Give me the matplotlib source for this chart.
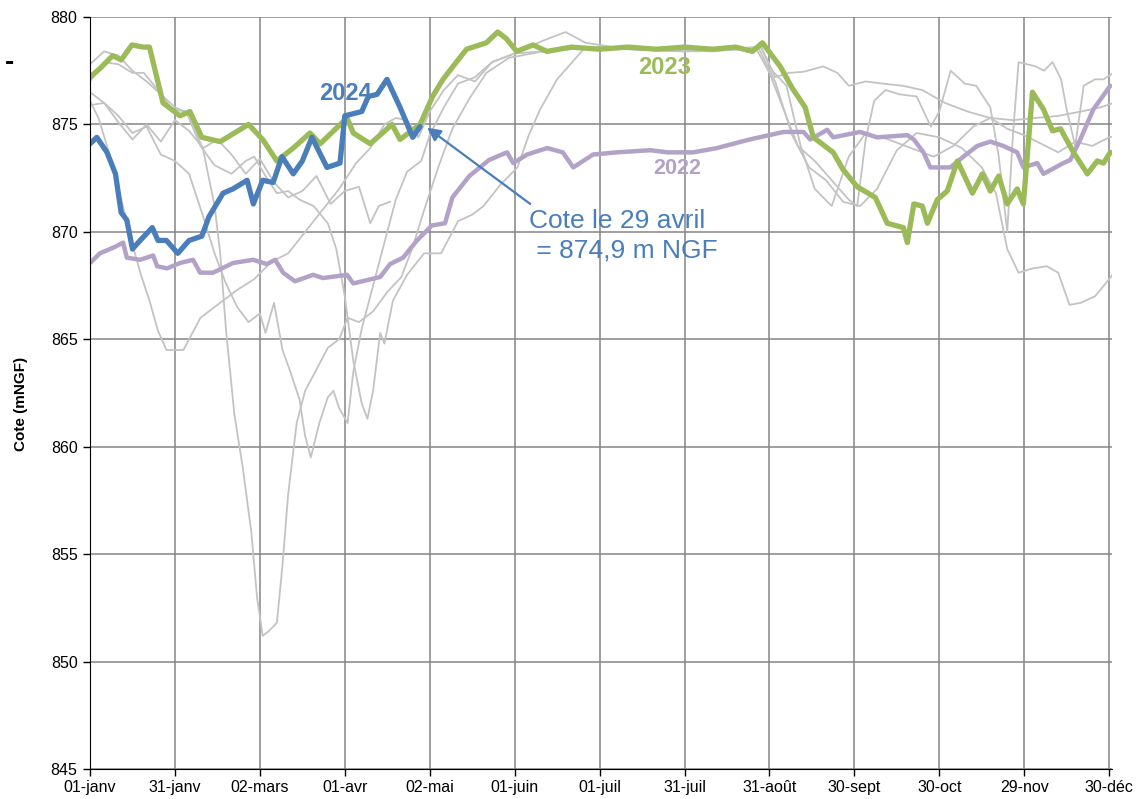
import matplotlib
matplotlib.use("Agg")
import matplotlib.pyplot as plt

plt.rcParams['font.family'] = ['Liberation Sans', 'DejaVu Sans']

# x = day of year (0 = 01-janv), y = cote in m NGF
tick_days = [0, 30, 60, 90, 120, 150, 180, 210, 240, 270, 300, 330, 360]
tick_labels = ["01-janv", "31-janv", "02-mars", "01-avr", "02-mai", "01-juin", "01-juil",
               "31-juil", "31-août", "30-sept", "30-oct", "29-nov", "30-déc"]

y2024_days = [0, 2.4, 6, 9, 11, 13, 15, 17.7, 22, 24, 27, 31, 35, 39.5, 42, 47, 50.5, 55.5, 57.7, 61,
              64.7, 67.8, 71.8, 75, 78.4, 83.7, 88.3, 90, 96, 98.3, 101.4, 104.9, 109.5, 114, 116.6]
y2024_vals = [874.1, 874.4, 873.7, 872.7, 870.9, 870.55, 869.2, 869.6, 870.2, 869.6, 869.6, 869.0, 869.6,
              869.8, 870.7, 871.8, 872.0, 872.4, 871.3, 872.4, 872.3, 873.5, 872.7, 873.3, 874.4, 873.0,
              873.2, 875.4, 875.6, 876.3, 876.4, 877.1, 875.8, 874.4, 874.9]

y2023_days = [0, 3.5, 8, 11, 14.8, 18.8, 21, 25.8, 31.8, 35.3, 39.5, 46, 56, 61, 66, 71.8, 77.7, 81.3,
              90.8, 93, 99, 106.7, 109.5, 116.6, 121, 124.7, 130, 133, 140, 144, 147, 150.7, 156.5,
              161.4, 170, 180, 190, 200, 210, 220, 228, 234, 237.5, 243.8, 248, 252.6, 255.5, 262.5,
              266, 271, 277.4, 281.6, 287.3, 288.7, 291, 294, 295.8, 299.3, 302.8, 306.4, 311.7, 315.2,
              318, 321, 324, 327.5, 329.7, 332.9, 336.8, 340, 342.8, 347.4, 352.3, 355.8, 358, 360.4]
y2023_vals = [877.2, 877.6, 878.2, 878.0, 878.7, 878.6, 878.6, 876.0, 875.4, 875.6, 874.4, 874.2, 875.0,
              874.3, 873.3, 873.9, 874.6, 874.1, 875.3, 874.6, 874.1, 875.0, 874.3, 875.0, 876.3, 877.1,
              878.0, 878.5, 878.8, 879.3, 879.0, 878.4, 878.7, 878.4, 878.6, 878.5, 878.6, 878.5, 878.6,
              878.5, 878.6, 878.4, 878.8, 877.7, 876.7, 875.8, 874.4, 873.7, 872.9, 872.1, 871.6, 870.4,
              870.2, 869.5, 871.3, 871.2, 870.4, 871.5, 871.9, 873.3, 871.8, 872.7, 871.9, 872.6, 871.3,
              872.0, 871.3, 876.5, 875.7, 874.7, 874.8, 873.7, 872.7, 873.3, 873.2, 873.7]

y2022_days = [0, 3.5, 8.8, 11.7, 13, 17.7, 22.3, 23.7, 27.2, 31.8, 36.4, 38.9, 43.5, 50.5, 57.6, 62.5,
              65.4, 68.2, 72.4, 78.8, 82.3, 90.8, 93, 102.5, 106, 110.6, 115.5, 120.8, 125.4, 128, 134,
              141, 147.3, 149.5, 154.4, 161.5, 167, 170.7, 177.7, 186, 198, 204, 213, 221.5, 233, 245,
              252, 254.4, 260.4, 262.5, 272, 278, 288.7, 291, 294.4, 296.8, 303.9, 308.5, 313.4, 318,
              322.6, 327.5, 329.7, 334.6, 336.8, 343.8, 346.3, 349.8, 354.4, 360.4]
y2022_vals = [868.55, 869.0, 869.3, 869.5, 868.8, 868.7, 868.9, 868.4, 868.3, 868.55, 868.7, 868.1,
              868.1, 868.55, 868.7, 868.5, 868.7, 868.1, 867.7, 868.0, 867.85, 868.0, 867.6, 867.9,
              868.5, 868.8, 869.6, 870.3, 870.4, 871.6, 872.6, 873.35, 873.7, 873.2, 873.6, 873.9,
              873.7, 873.0, 873.6, 873.7, 873.8, 873.7, 873.7, 873.9, 874.3, 874.65, 874.65, 874.3,
              874.75, 874.4, 874.65, 874.4, 874.5, 874.3, 873.7, 873.0, 873.0, 873.5, 874.0, 874.2,
              874.0, 873.7, 873.0, 873.2, 872.7, 873.2, 873.35, 874.3, 875.7, 876.8]

# earlier years, all in grey
gray_a_days = [0, 5, 10, 15, 20, 25, 30, 35, 40, 44, 46, 48, 51, 54, 57, 59, 61, 63, 66, 68, 70, 73, 76,
               80, 84, 88, 91, 95, 100, 105, 110, 114, 118, 123, 128, 134, 140, 148, 160, 180, 200, 220,
               236, 242, 248, 254, 260, 266, 272, 278, 285, 292, 300, 308, 315, 320, 324, 328, 333, 338,
               342, 346, 350, 355, 360, 364]
gray_a_vals = [877.8, 878.4, 878.2, 877.5, 877.0, 876.4, 875.8, 875.5, 873.8, 871.2, 869.0, 865.5, 861.5,
               859.0, 856.0, 853.0, 851.2, 851.4, 851.8, 854.5, 857.8, 861.1, 862.6, 863.6, 864.6, 865.0,
               866.0, 865.8, 866.3, 867.2, 867.9, 869.3, 871.0, 873.0, 874.8, 876.2, 877.4, 878.1, 878.4,
               878.6, 878.5, 878.4, 878.6, 877.0, 874.5, 873.0, 872.4, 871.4, 871.2, 872.0, 873.8, 874.6,
               874.4, 873.9, 873.0, 871.8, 869.2, 868.1, 868.3, 868.4, 868.1, 866.6, 866.7, 867.0, 867.8,
               868.5]

gray_b_days = [0, 3, 6, 9, 12, 15, 18, 21, 24, 27, 33, 39, 46, 52, 58, 64, 70, 76, 82, 88, 94, 99, 104,
               108, 112, 116, 120, 125, 130, 136, 142, 150, 160, 168, 175, 190, 210, 230, 237, 242, 247,
               252, 259, 264, 268, 274, 280, 287, 294, 302, 310, 318, 326, 334, 342, 350, 357, 364]
gray_b_vals = [876.1, 875.3, 874.0, 872.6, 871.0, 869.4, 868.0, 866.8, 865.4, 864.5, 864.5, 866.0, 866.7,
               867.3, 867.8, 868.6, 869.0, 870.0, 871.0, 872.0, 873.2, 873.9, 875.0, 875.3, 875.2, 874.4,
               875.6, 876.6, 877.3, 877.0, 877.9, 878.3, 878.9, 879.3, 878.8, 878.5, 878.4, 878.5, 878.6,
               877.2, 877.4, 877.45, 877.7, 877.4, 876.8, 877.0, 876.9, 876.8, 876.6, 876.0, 875.6, 875.3,
               875.2, 875.3, 875.4, 875.6, 875.8, 876.1]

gray_c_days = [0, 5, 10, 15, 20, 25, 30, 35, 40, 44, 48, 52, 56, 60, 62, 65, 68, 71, 74, 76, 78, 81, 84,
               86, 88, 91, 93, 96, 100, 104, 108, 112, 117, 120, 125, 130, 136, 142, 150, 160, 175, 195,
               215, 235, 240, 245, 250, 256, 262, 268, 271, 274, 277, 281, 286, 292, 297, 300, 304, 309,
               313, 318, 321, 324, 326, 328, 334, 337, 340, 343, 345, 348, 351, 355, 358, 364]
gray_c_vals = [876.5, 876.0, 875.4, 874.6, 874.9, 873.6, 873.3, 872.7, 870.7, 869.0, 867.6, 866.5, 865.8,
               866.2, 865.3, 866.7, 864.5, 863.4, 862.2, 860.5, 859.5, 861.1, 862.3, 862.6, 861.8, 861.1,
               863.5, 865.5, 867.5, 869.5, 871.5, 872.8, 873.3, 874.5, 875.8, 876.9, 877.2, 877.9, 878.3,
               878.4, 878.6, 878.5, 878.4, 878.6, 877.4, 875.7, 874.0, 873.3, 872.4, 871.5, 871.2, 874.3,
               876.1, 876.6, 876.4, 876.3, 874.9, 875.6, 877.5, 876.9, 876.8, 875.8, 873.5, 870.0, 874.5,
               877.9, 877.7, 877.5, 877.9, 877.1, 875.7, 874.0, 876.8, 877.1, 877.1, 877.6]

gray_d_days = [0, 5, 10, 15, 19, 24, 29, 34, 39, 44, 50, 55, 58, 62, 66, 70, 74, 79, 84, 87, 90, 93, 96,
               98, 100, 102.5, 104, 107, 112, 118, 124, 130, 135, 139, 145, 151, 155, 159, 165, 171, 175,
               190, 210, 230, 237, 241, 246, 251, 256, 262, 268, 274, 282, 290, 298, 305, 312, 318, 324,
               330, 336, 342, 348, 354, 360, 364]
gray_d_vals = [877.0, 877.9, 877.8, 877.4, 877.4, 876.6, 875.7, 875.6, 874.0, 873.1, 872.7, 873.3, 873.5,
               872.6, 871.8, 871.9, 871.5, 871.2, 870.4, 869.2, 867.0, 864.0, 862.0, 861.3, 862.6, 865.3,
               864.8, 866.8, 868.0, 869.0, 869.0, 870.5, 870.8, 871.2, 872.2, 873.0, 874.5, 875.7, 877.1,
               878.0, 878.6, 878.5, 878.4, 878.5, 878.6, 877.5, 876.8, 874.0, 872.0, 871.2, 873.5, 874.6,
               874.3, 873.9, 873.5, 874.0, 874.9, 875.3, 874.8, 874.5, 874.1, 873.7, 874.2, 874.0, 874.4,
               874.5]

gray_e_days = [0, 5, 10, 15, 20, 25, 30, 35, 40, 45, 50, 55, 60, 65, 70, 75, 80, 85, 90, 95, 99, 102, 106]
gray_e_vals = [875.9, 876.0, 875.1, 874.3, 875.0, 874.2, 875.2, 874.7, 873.9, 874.3, 873.6, 872.7, 873.4,
               872.3, 871.6, 871.9, 872.6, 871.3, 871.9, 872.1, 870.4, 871.2, 871.4]

BLUE = "#4a7ebb"
GREEN = "#9bbb59"
PURPLE = "#b3a2c7"
GREY = "#c3c3c3"

fig = plt.figure(figsize=(11.38, 7.99), dpi=100)
ax = fig.add_axes([90 / 1138, 1 - 769 / 799, 1022 / 1138, 752 / 799])

for d, v in [(gray_a_days, gray_a_vals), (gray_b_days, gray_b_vals), (gray_c_days, gray_c_vals),
             (gray_d_days, gray_d_vals), (gray_e_days, gray_e_vals)]:
    ax.plot(d, v, color=GREY, lw=1.3, zorder=2)

ax.plot(y2022_days, y2022_vals, color=PURPLE, lw=3.2, zorder=3, solid_capstyle='round')
ax.plot(y2023_days, y2023_vals, color=GREEN, lw=3.8, zorder=4, solid_capstyle='round')
ax.plot(y2024_days, y2024_vals, color=BLUE, lw=3.8, zorder=5, solid_capstyle='round')

ax.set_xlim(0, 361)
ax.set_ylim(845, 880)
ax.set_xticks(tick_days)
ax.set_xticklabels(tick_labels, fontsize=11.5)
ax.set_yticks(range(845, 881, 5))
ax.tick_params(axis='y', labelsize=11.5, length=5, width=1, color='black', pad=4)
ax.tick_params(axis='x', length=5, width=1, color='black', pad=3)
ax.grid(True, color="#858585", lw=1.1, zorder=1)
ax.set_axisbelow(True)
for s in ['top', 'right']:
    ax.spines[s].set_visible(False)
ax.spines['left'].set_color('black')
ax.spines['bottom'].set_color('black')
ax.spines['left'].set_zorder(6)
ax.spines['bottom'].set_zorder(6)

ax.set_ylabel("Cote (mNGF)", fontsize=11, fontweight='bold')
ax.yaxis.set_label_coords(-62 / 1022, 0.485)

ax.text(90.1, 876.45, "2024", color=BLUE, fontsize=17, fontweight='bold', ha='center', va='center')
ax.text(202.8, 877.65, "2023", color=GREEN, fontsize=17, fontweight='bold', ha='center', va='center')
ax.text(207.4, 872.95, "2022", color=PURPLE, fontsize=15.5, fontweight='bold', ha='center', va='center')

ax.annotate("", xy=(119.1, 874.85), xytext=(155.5, 871.3),
            arrowprops=dict(arrowstyle='-|>', color=BLUE, lw=1.6, mutation_scale=20, shrinkA=0, shrinkB=0),
            zorder=6)
ax.text(155.0, 871.05, "Cote le 29 avril\n = 874,9 m NGF", color=BLUE, fontsize=19,
        ha='left', va='top', linespacing=1.3)

# remnant of a cropped heading at the top-left corner
fig.text(5 / 1138, 1 - 63 / 799, "-", fontsize=20, fontweight='bold', ha='left', va='center')

fig.savefig("out.png", dpi=100)
